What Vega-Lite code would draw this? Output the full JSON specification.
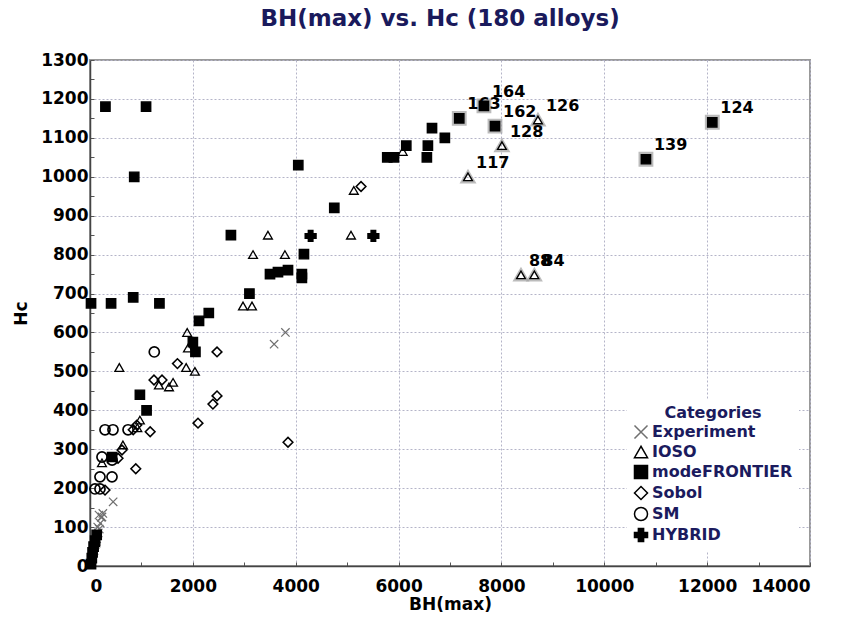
{
  "$schema": "https://vega.github.io/schema/vega-lite/v6.json",
  "autosize": "none",
  "width": 720,
  "height": 506,
  "padding": {"left": 90, "top": 60, "right": 36, "bottom": 53},
  "background": "white",
  "title": {
    "text": "BH(max) vs. Hc (180 alloys)",
    "font": "DejaVu Sans",
    "fontSize": 23,
    "fontWeight": "bold",
    "color": "#1a1a5c",
    "anchor": "middle",
    "offset": 20,
    "dx": -10
  },
  "config": {
    "view": {"stroke": "#999999", "strokeWidth": 2},
    "axis": {
      "labelFont": "DejaVu Sans",
      "labelFontWeight": "bold",
      "labelFontSize": 17,
      "labelColor": "black",
      "titleFont": "DejaVu Sans",
      "titleFontWeight": "bold",
      "titleFontSize": 17,
      "titleColor": "black",
      "domainColor": "#444444",
      "domainWidth": 1.5,
      "tickColor": "#555555",
      "tickSize": -4,
      "gridColor": "#b4b4c8",
      "gridDash": [2, 2],
      "gridWidth": 1
    },
    "legend": {
      "labelFont": "DejaVu Sans",
      "labelFontWeight": "bold",
      "labelFontSize": 16,
      "labelColor": "#1b1b5e",
      "titleFont": "DejaVu Sans",
      "titleFontWeight": "bold",
      "titleFontSize": 16,
      "titleColor": "#1b1b5e"
    }
  },
  "data": {
    "values": [
      {"x": 3580, "y": 570, "c": "Experiment", "label": ""},
      {"x": 3800, "y": 600, "c": "Experiment", "label": ""},
      {"x": 450, "y": 165, "c": "Experiment", "label": ""},
      {"x": 175, "y": 131, "c": "Experiment", "label": ""},
      {"x": 233, "y": 126, "c": "Experiment", "label": ""},
      {"x": 200, "y": 110, "c": "Experiment", "label": ""},
      {"x": 150, "y": 100, "c": "Experiment", "label": ""},
      {"x": 220, "y": 125, "c": "Experiment", "label": ""},
      {"x": 180, "y": 95, "c": "Experiment", "label": ""},
      {"x": 160, "y": 85, "c": "Experiment", "label": ""},
      {"x": 130, "y": 70, "c": "Experiment", "label": ""},
      {"x": 100, "y": 55, "c": "Experiment", "label": ""},
      {"x": 80, "y": 40, "c": "Experiment", "label": ""},
      {"x": 50, "y": 20, "c": "Experiment", "label": ""},
      {"x": 250, "y": 135, "c": "Experiment", "label": ""},

      {"x": 3460, "y": 850, "c": "IOSO", "label": ""},
      {"x": 5075, "y": 850, "c": "IOSO", "label": ""},
      {"x": 3170, "y": 800, "c": "IOSO", "label": ""},
      {"x": 3790, "y": 800, "c": "IOSO", "label": ""},
      {"x": 2975, "y": 668, "c": "IOSO", "label": ""},
      {"x": 3150, "y": 668, "c": "IOSO", "label": ""},
      {"x": 1890, "y": 600, "c": "IOSO", "label": ""},
      {"x": 1905, "y": 560, "c": "IOSO", "label": ""},
      {"x": 570, "y": 510, "c": "IOSO", "label": ""},
      {"x": 1870, "y": 510, "c": "IOSO", "label": ""},
      {"x": 2040, "y": 500, "c": "IOSO", "label": ""},
      {"x": 1615, "y": 472, "c": "IOSO", "label": ""},
      {"x": 1536, "y": 460, "c": "IOSO", "label": ""},
      {"x": 1340, "y": 465, "c": "IOSO", "label": ""},
      {"x": 5130, "y": 965, "c": "IOSO", "label": ""},
      {"x": 6080, "y": 1065, "c": "IOSO", "label": ""},
      {"x": 920, "y": 355, "c": "IOSO", "label": ""},
      {"x": 970, "y": 375, "c": "IOSO", "label": ""},
      {"x": 640, "y": 311, "c": "IOSO", "label": ""},
      {"x": 233, "y": 265, "c": "IOSO", "label": ""},
      {"x": 100, "y": 60, "c": "IOSO", "label": ""},
      {"x": 8010, "y": 1080, "c": "IOSO", "label": "128"},
      {"x": 7350, "y": 1000, "c": "IOSO", "label": "117"},
      {"x": 8710, "y": 1146, "c": "IOSO", "label": "126"},
      {"x": 8380, "y": 748, "c": "IOSO", "label": "88"},
      {"x": 8640, "y": 748, "c": "IOSO", "label": "84"},

      {"x": 300, "y": 1180, "c": "modeFRONTIER", "label": ""},
      {"x": 1090, "y": 1180, "c": "modeFRONTIER", "label": ""},
      {"x": 860, "y": 1000, "c": "modeFRONTIER", "label": ""},
      {"x": 4050, "y": 1030, "c": "modeFRONTIER", "label": ""},
      {"x": 4750, "y": 920, "c": "modeFRONTIER", "label": ""},
      {"x": 2740, "y": 850, "c": "modeFRONTIER", "label": ""},
      {"x": 4160, "y": 801, "c": "modeFRONTIER", "label": ""},
      {"x": 3500, "y": 750, "c": "modeFRONTIER", "label": ""},
      {"x": 3655, "y": 755, "c": "modeFRONTIER", "label": ""},
      {"x": 3850, "y": 760, "c": "modeFRONTIER", "label": ""},
      {"x": 4120, "y": 750, "c": "modeFRONTIER", "label": ""},
      {"x": 4120, "y": 740, "c": "modeFRONTIER", "label": ""},
      {"x": 3100, "y": 700, "c": "modeFRONTIER", "label": ""},
      {"x": 20, "y": 675, "c": "modeFRONTIER", "label": ""},
      {"x": 410, "y": 675, "c": "modeFRONTIER", "label": ""},
      {"x": 840, "y": 690, "c": "modeFRONTIER", "label": ""},
      {"x": 1350, "y": 675, "c": "modeFRONTIER", "label": ""},
      {"x": 2120, "y": 630, "c": "modeFRONTIER", "label": ""},
      {"x": 2310, "y": 650, "c": "modeFRONTIER", "label": ""},
      {"x": 2000, "y": 575, "c": "modeFRONTIER", "label": ""},
      {"x": 2050, "y": 550, "c": "modeFRONTIER", "label": ""},
      {"x": 970, "y": 440, "c": "modeFRONTIER", "label": ""},
      {"x": 1100, "y": 400, "c": "modeFRONTIER", "label": ""},
      {"x": 430, "y": 280, "c": "modeFRONTIER", "label": ""},
      {"x": 5780, "y": 1050, "c": "modeFRONTIER", "label": ""},
      {"x": 5910, "y": 1050, "c": "modeFRONTIER", "label": ""},
      {"x": 6150, "y": 1080, "c": "modeFRONTIER", "label": ""},
      {"x": 6570, "y": 1080, "c": "modeFRONTIER", "label": ""},
      {"x": 6550, "y": 1050, "c": "modeFRONTIER", "label": ""},
      {"x": 6650, "y": 1125, "c": "modeFRONTIER", "label": ""},
      {"x": 6900, "y": 1100, "c": "modeFRONTIER", "label": ""},
      {"x": 20, "y": 5, "c": "modeFRONTIER", "label": ""},
      {"x": 35, "y": 20, "c": "modeFRONTIER", "label": ""},
      {"x": 50, "y": 35, "c": "modeFRONTIER", "label": ""},
      {"x": 70, "y": 50, "c": "modeFRONTIER", "label": ""},
      {"x": 100, "y": 65, "c": "modeFRONTIER", "label": ""},
      {"x": 130, "y": 80, "c": "modeFRONTIER", "label": ""},
      {"x": 7180, "y": 1150, "c": "modeFRONTIER", "label": "163"},
      {"x": 7660, "y": 1182, "c": "modeFRONTIER", "label": "164"},
      {"x": 7875, "y": 1130, "c": "modeFRONTIER", "label": "162"},
      {"x": 10810, "y": 1045, "c": "modeFRONTIER", "label": "139"},
      {"x": 12100, "y": 1140, "c": "modeFRONTIER", "label": "124"},

      {"x": 5270, "y": 975, "c": "Sobol", "label": ""},
      {"x": 2470, "y": 550, "c": "Sobol", "label": ""},
      {"x": 1700, "y": 520, "c": "Sobol", "label": ""},
      {"x": 1244, "y": 478, "c": "Sobol", "label": ""},
      {"x": 1400, "y": 478, "c": "Sobol", "label": ""},
      {"x": 2390, "y": 416, "c": "Sobol", "label": ""},
      {"x": 2470, "y": 437, "c": "Sobol", "label": ""},
      {"x": 2100, "y": 367, "c": "Sobol", "label": ""},
      {"x": 3850, "y": 318, "c": "Sobol", "label": ""},
      {"x": 1170, "y": 345, "c": "Sobol", "label": ""},
      {"x": 840, "y": 350, "c": "Sobol", "label": ""},
      {"x": 910, "y": 362, "c": "Sobol", "label": ""},
      {"x": 622, "y": 298, "c": "Sobol", "label": ""},
      {"x": 545, "y": 277, "c": "Sobol", "label": ""},
      {"x": 890, "y": 250, "c": "Sobol", "label": ""},
      {"x": 292, "y": 195, "c": "Sobol", "label": ""},

      {"x": 1250, "y": 550, "c": "SM", "label": ""},
      {"x": 292, "y": 350, "c": "SM", "label": ""},
      {"x": 447, "y": 350, "c": "SM", "label": ""},
      {"x": 740, "y": 350, "c": "SM", "label": ""},
      {"x": 233, "y": 280, "c": "SM", "label": ""},
      {"x": 430, "y": 272, "c": "SM", "label": ""},
      {"x": 194, "y": 229, "c": "SM", "label": ""},
      {"x": 428, "y": 229, "c": "SM", "label": ""},
      {"x": 97, "y": 198, "c": "SM", "label": ""},
      {"x": 194, "y": 198, "c": "SM", "label": ""},

      {"x": 4290, "y": 848, "c": "HYBRID", "label": ""},
      {"x": 5510, "y": 848, "c": "HYBRID", "label": ""}
    ]
  },
  "encoding": {
    "x": {
      "field": "x",
      "type": "quantitative",
      "title": "BH(max)",
      "scale": {"domain": [0, 14000], "nice": false},
      "axis": {
        "values": [0, 1000, 2000, 3000, 4000, 5000, 6000, 7000, 8000, 9000, 10000, 11000, 12000, 13000, 14000],
        "format": "d",
        "labelExpr": "datum.value % 2000 == 0 ? datum.label : ''",
        "gridOpacity": {"condition": {"test": "datum.value % 2000 == 0", "value": 1}, "value": 0},
        "labelPadding": 16,
        "titlePadding": 2
      }
    },
    "y": {
      "field": "y",
      "type": "quantitative",
      "title": "Hc",
      "scale": {"domain": [0, 1300], "nice": false},
      "axis": {
        "values": [0, 50, 100, 150, 200, 250, 300, 350, 400, 450, 500, 550, 600, 650, 700, 750, 800, 850, 900, 950, 1000, 1050, 1100, 1150, 1200, 1250, 1300],
        "format": "d",
        "labelExpr": "datum.value % 100 == 0 ? datum.label : ''",
        "gridOpacity": {"condition": {"test": "datum.value % 100 == 0", "value": 1}, "value": 0},
        "labelPadding": 6,
        "titlePadding": 10
      }
    }
  },
  "layer": [
    {
      "transform": [{"filter": "datum.label != ''"}],
      "mark": {"type": "point", "filled": false, "stroke": "#a0a0a0", "strokeWidth": 3, "size": 140},
      "encoding": {
        "shape": {
          "field": "c",
          "type": "nominal",
          "legend": null,
          "scale": {
            "domain": ["Experiment", "IOSO", "modeFRONTIER", "Sobol", "SM", "HYBRID"],
            "range": ["M-1,-1L1,1M-1,1L1,-1", "triangle-up", "square", "diamond", "circle", "cross"]
          }
        }
      }
    },
    {
      "mark": {"type": "point", "filled": true, "opacity": 1},
      "encoding": {
        "shape": {
          "field": "c",
          "type": "nominal",
          "title": "Categories",
          "scale": {
            "domain": ["Experiment", "IOSO", "modeFRONTIER", "Sobol", "SM", "HYBRID"],
            "range": ["M-1,-1L1,1M-1,1L1,-1", "triangle-up", "square", "diamond", "circle", "cross"]
          },
          "legend": {
            "orient": "none",
            "legendX": 537,
            "legendY": 339,
            "fillColor": "white",
            "padding": 6,
            "titleAnchor": "middle",
            "titlePadding": 3,
            "symbolSize": 170,
            "symbolStrokeWidth": 1.5,
            "rowPadding": 1,
            "labelOffset": 3
          }
        },
        "fill": {
          "field": "c",
          "type": "nominal",
          "title": "Categories",
          "scale": {
            "domain": ["Experiment", "IOSO", "modeFRONTIER", "Sobol", "SM", "HYBRID"],
            "range": ["transparent", "transparent", "black", "transparent", "transparent", "black"]
          }
        },
        "stroke": {
          "field": "c",
          "type": "nominal",
          "title": "Categories",
          "scale": {
            "domain": ["Experiment", "IOSO", "modeFRONTIER", "Sobol", "SM", "HYBRID"],
            "range": ["#707070", "black", "black", "black", "black", "black"]
          }
        },
        "strokeWidth": {
          "field": "c",
          "type": "nominal",
          "legend": null,
          "scale": {
            "domain": ["Experiment", "IOSO", "modeFRONTIER", "Sobol", "SM", "HYBRID"],
            "range": [1.2, 1.8, 0, 1.5, 2.2, 0]
          }
        },
        "size": {
          "field": "c",
          "type": "nominal",
          "legend": null,
          "scale": {
            "domain": ["Experiment", "IOSO", "modeFRONTIER", "Sobol", "SM", "HYBRID"],
            "range": [70, 110, 100, 85, 150, 150]
          }
        }
      }
    },
    {
      "transform": [{"filter": "datum.label != ''"}],
      "mark": {"type": "text", "align": "left", "baseline": "middle", "dx": 8, "dy": -14, "font": "DejaVu Sans", "fontWeight": "bold", "fontSize": 16, "color": "black"},
      "encoding": {"text": {"field": "label", "type": "nominal"}}
    }
  ],
  "resolve": {"legend": {"shape": "independent", "fill": "independent", "stroke": "independent"}}
}
